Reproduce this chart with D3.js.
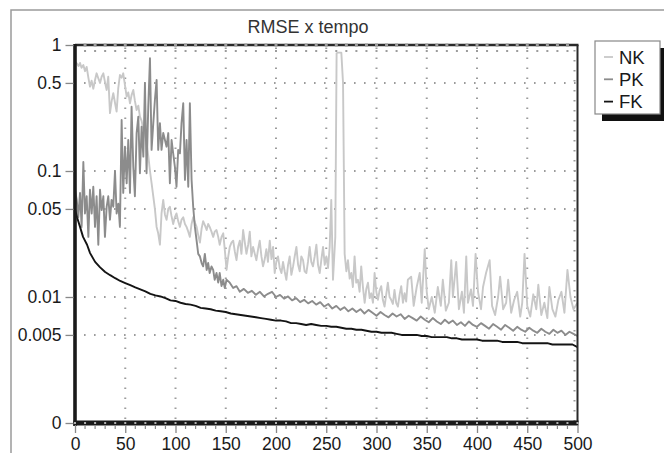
<!DOCTYPE html>
<html>
<head>
<meta charset="utf-8">
<script src="https://cdn.jsdelivr.net/npm/d3@7"></script>
<style>
  body { margin: 0; background: #fff; }
  svg { display: block; font-family: "Liberation Sans", Arial, sans-serif; }
</style>
</head>
<body>
<svg id="chart" width="664" height="453"></svg>
<script>
// ---- data ----
const seriesNames = ["NK", "PK", "FK"];
const xTickValues = [0, 50, 100, 150, 200, 250, 300, 350, 400, 450, 500];
const yTickValues = [1, 0.5, 0.1, 0.05, 0.01, 0.005, 0.001];
const yTickLabels = ["1", "0.5", "0.1", "0.05", "0.01", "0.005", "0"];

const nk = [
  [0,0.74],[1.7,0.716],[3.5,0.68],[5,0.72],[6.5,0.66],[8.3,0.694],[10,0.62],[11.6,0.67],[13.3,0.55],
  [14.9,0.467],[16.5,0.52],[18.2,0.45],[20,0.53],[21.5,0.596],[23,0.55],[24.9,0.5],[26.5,0.56],
  [28.2,0.596],[30,0.5],[31.5,0.44],[33.1,0.56],[34.8,0.288],[36.5,0.36],[38.1,0.415],[40,0.34],
  [41.4,0.296],[43,0.45],[44.7,0.578],[46.4,0.55],[48,0.596],[49.7,0.48],[51.4,0.39],[53,0.42],
  [54.7,0.345],[56.3,0.4],[58,0.44],[59.6,0.36],[61.3,0.305],[63,0.33],[64.6,0.27],[66.3,0.25],
  [68,0.212],[69.6,0.2],[71.2,0.166],[73,0.13],[74.6,0.1],[76.2,0.08],[77.9,0.063],[79.5,0.05],
  [81.2,0.036],[82.8,0.032],[84.5,0.026],[86.1,0.046],[87.8,0.059],[89.5,0.045],[91.1,0.041],
  [92.8,0.05],[94.4,0.052],[96,0.044],[97.7,0.038],[99.4,0.043],[101,0.046],[102.7,0.04],
  [104.4,0.036],[106,0.041],[107.7,0.043],[109.4,0.038],[111,0.036],[112.7,0.033],[114.3,0.03],
  [116,0.038],[117.6,0.043],[119.3,0.039],[121,0.036],[122.6,0.031],[124.3,0.027],[126,0.035],
  [127.5,0.04],[129.3,0.037],[131,0.034],[132.5,0.038],[134,0.036],[135.8,0.033],[137.5,0.03],
  [139,0.033],[140.8,0.034],[142.5,0.03],[144,0.026],[145.8,0.03],[147.5,0.032],[149,0.024],
  [150.8,0.0164],[152.5,0.021],[154,0.025],[155.7,0.027],[157.4,0.028],[159,0.023],[160.7,0.0196],
  [162.3,0.025],[164,0.028],[165.6,0.022],[167.3,0.034],[169,0.027],[170.6,0.022],[172.3,0.026],
  [173.9,0.033],[175.5,0.021],[177.2,0.025],[178.9,0.022],[180.5,0.0196],[182.2,0.024],
  [183.8,0.028],[185.5,0.021],[187.1,0.0175],[188.8,0.02],[190.4,0.024],[192,0.019],[193.8,0.028],
  [195.5,0.02],[197.1,0.025],[198.7,0.0155],[200.3,0.019],[202,0.021],[203.7,0.017],
  [205.4,0.0155],[207,0.019],[208.6,0.016],[210.3,0.0137],[212,0.018],[213.6,0.021],[215.3,0.015],
  [217,0.0175],[218.6,0.021],[220.3,0.025],[222,0.018],[223.6,0.016],[225.2,0.021],[226.9,0.0196],
  [228.5,0.016],[230.2,0.0155],[231.8,0.019],[233.5,0.025],[235.1,0.019],[236.8,0.0175],[238.5,0.021],
  [240.2,0.026],[241.8,0.018],[243.5,0.0155],[245.2,0.02],[246.8,0.025],[248.5,0.018],[250.1,0.021],
  [251.8,0.017],[253.4,0.025],[255,0.059],[256.7,0.0137],[259,0.03],[260.3,0.86],[261.7,0.87],[265,0.87],
  [266.7,0.5],[268.3,0.022],[270,0.016],[271.6,0.0196],[273.3,0.014],[274.9,0.0155],[276.5,0.012],
  [278.2,0.021],[279.8,0.013],[281.5,0.0137],[283.2,0.011],[284.8,0.0175],[286.5,0.012],
  [288.2,0.009],[289.8,0.0115],[291.5,0.013],[293.2,0.0098],[294.8,0.0107],[296.5,0.009],
  [298.1,0.0155],[299.8,0.011],[301.4,0.0095],[303,0.0112],[304.7,0.0122],[306.3,0.0095],[308,0.0084],
  [309.7,0.0105],[311.3,0.013],[313,0.01],[314.6,0.0095],[316.3,0.0088],[317.9,0.0114],[319.6,0.009],
  [321.3,0.0084],[323,0.0105],[324.6,0.0122],[326.3,0.009],[327.9,0.0107],[329.5,0.0092],[331.2,0.0137],
  [334.5,0.0145],[337,0.0085],[340,0.012],[343,0.0155],[345,0.009],[348,0.024],[350,0.011],[352,0.008],
  [355,0.01],[358,0.0075],[361,0.012],[364,0.0085],[366,0.0137],[369,0.0078],[372,0.009],[374.4,0.0196],
  [376,0.01],[379.3,0.019],[382,0.008],[385,0.011],[387,0.0075],[389.3,0.021],[391,0.009],[394,0.0115],
  [396,0.0085],[398.6,0.022],[401,0.011],[404,0.008],[406,0.012],[409,0.0155],[412.6,0.0196],[415,0.0085],
  [418,0.0072],[421,0.01],[423,0.0145],[426,0.008],[429,0.009],[431,0.0137],[434,0.0075],[437,0.0095],
  [440,0.011],[443,0.007],[445,0.009],[447.3,0.022],[450,0.0085],[453,0.007],[456,0.0105],[459,0.008],
  [461,0.0125],[464,0.0072],[467,0.009],[470,0.0068],[472,0.012],[475,0.008],[478,0.007],[481,0.0095],
  [484,0.011],[487,0.0075],[490,0.0164],[493,0.01],[496,0.008],[500,0.009]
];

const pk = [
  [0,0.071],[1.7,0.059],[3.3,0.043],[5,0.067],[6.6,0.036],[8.3,0.118],[9.9,0.046],[11.6,0.063],
  [13.3,0.03],[14.9,0.071],[16.6,0.046],[18.2,0.075],[19.9,0.036],[21.5,0.063],[23.2,0.026],
  [24.9,0.071],[26.5,0.049],[28.2,0.063],[29.8,0.03],[31.5,0.052],[33.1,0.063],[34.8,0.041],
  [36.4,0.059],[38.1,0.052],[39.8,0.1],[41.4,0.046],[43.1,0.055],[44.7,0.036],[46.4,0.254],
  [48,0.067],[49.7,0.156],[51.4,0.08],[53,0.176],[54.7,0.067],[56.3,0.324],[58,0.108],[59.6,0.063],
  [61.3,0.2],[63,0.27],[64.6,0.096],[66.3,0.225],[68,0.13],[69.6,0.5],[71.2,0.096],[72.9,0.324],
  [74.6,0.784],[76.2,0.147],[77.9,0.24],[79.5,0.366],[81.2,0.527],[82.8,0.147],[84.5,0.24],
  [86.1,0.147],[87.8,0.2],[89.5,0.176],[91.1,0.156],[92.8,0.2],[94.4,0.08],[96.1,0.176],[97.7,0.138],
  [99.4,0.108],[101,0.075],[102.7,0.147],[104.4,0.138],[106,0.24],[107.7,0.345],[109.4,0.085],
  [111,0.176],[112.7,0.075],[114.3,0.345],[116,0.085],[117.6,0.052],[119.3,0.036],[121,0.028],
  [122.6,0.022],[124.3,0.021],[126,0.0186],[127.5,0.0175],[129.2,0.022],[131,0.0164],[132.5,0.0186],
  [134,0.0155],[135.8,0.0175],[137.5,0.0164],[139,0.0137],[140.8,0.0155],[142.5,0.013],[144,0.0155],
  [145.8,0.0122],[147.5,0.0137],[149,0.0118],[150.8,0.0137],[154,0.013],[157.4,0.0118],[160.7,0.0122],
  [164,0.011],[168,0.0116],[172,0.0108],[176,0.0112],[180,0.0104],[184,0.011],[188,0.0101],[192,0.0106],
  [196,0.011],[200,0.01],[204,0.0104],[208,0.0097],[212,0.0101],[216,0.0094],[220,0.0098],[224,0.0091],
  [228,0.0095],[232,0.0089],[236,0.0093],[240,0.0087],[244,0.0091],[248,0.0084],[252,0.0088],[256,0.0081],
  [260,0.0085],[264,0.0079],[268,0.0083],[272,0.0077],[276,0.0081],[280,0.0076],[284,0.008],[288,0.0074],
  [292,0.0079],[296,0.0075],[300,0.0071],[304,0.0076],[308,0.0072],[312,0.0069],[316,0.0074],[320,0.007],
  [324,0.0073],[328,0.0067],[332,0.0071],[336,0.0068],[340,0.0065],[344,0.007],[348,0.0066],[352,0.0063],
  [356,0.0068],[360,0.0064],[364,0.0061],[368,0.0066],[372,0.0062],[376,0.0065],[380,0.006],[384,0.0063],
  [388,0.0059],[392,0.0064],[396,0.006],[400,0.0058],[404,0.0062],[408,0.0059],[412,0.0056],[416,0.0061],
  [420,0.0058],[424,0.0055],[428,0.006],[432,0.0057],[436,0.0054],[440,0.0058],[444,0.0055],[448,0.0053],
  [452,0.0057],[456,0.0054],[460,0.0052],[464,0.0056],[468,0.0053],[472,0.0051],[476,0.0055],[480,0.0052],
  [484,0.0054],[488,0.005],[492,0.0053],[496,0.0051],[500,0.0049]
];

const fk = [
  [0,0.05],[2,0.043],[5,0.036],[8,0.03],[12,0.026],[15,0.0223],[20,0.019],[25,0.0172],[30,0.0158],
  [35,0.0149],[40,0.0141],[45,0.0134],[50,0.0129],[55,0.0124],[60,0.0119],[65,0.0115],[70,0.0111],
  [75,0.0106],[80,0.0103],[85,0.0101],[90,0.0098],[95,0.0094],[100,0.0093],[105,0.009],[110,0.0088],
  [115,0.0087],[120,0.0085],[125,0.0082],[130,0.0081],[135,0.008],[140,0.0078],[145,0.0077],[150,0.0076],
  [155,0.0074],[160,0.0073],[165,0.0072],[170,0.0071],[175,0.007],[180,0.0069],[185,0.0068],[190,0.0067],
  [195,0.0066],[200,0.0065],[205,0.0065],[210,0.0064],[215,0.0062],[220,0.0062],[225,0.0061],[230,0.006],
  [235,0.0061],[240,0.006],[245,0.0059],[250,0.0059],[255,0.0058],[260,0.0058],[265,0.0057],[270,0.0056],
  [275,0.0056],[280,0.0055],[285,0.0055],[290,0.0054],[295,0.0053],[300,0.0053],[305,0.0052],[310,0.0052],
  [315,0.0052],[320,0.0051],[325,0.005],[330,0.005],[335,0.005],[340,0.005],[345,0.0049],[350,0.0049],
  [355,0.0048],[360,0.0048],[365,0.0048],[370,0.0048],[375,0.0047],[380,0.0047],[385,0.0046],[390,0.0046],
  [395,0.0046],[400,0.0046],[405,0.0045],[410,0.0045],[415,0.0045],[420,0.0045],[425,0.0044],[430,0.0044],
  [435,0.0044],[440,0.0044],[445,0.0043],[450,0.0043],[455,0.0043],[460,0.0043],[465,0.0043],[470,0.0043],
  [475,0.0042],[480,0.0042],[485,0.0042],[490,0.0042],[495,0.0042],[500,0.004]
];

const seriesData = [nk, pk, fk];
const seriesColor = ["#c8c8c8", "#8c8c8c", "#141414"];

// ---- layout ----
const svg = d3.select("#chart");
const plot = { left: 75, right: 577.5, top: 45, bottom: 423 };

const x = d3.scaleLinear().domain([0, 500]).range([plot.left, plot.right]);
const y = d3.scaleLog().domain([0.001, 1]).range([plot.bottom, plot.top]);

// outer frame
svg.append("rect")
  .attr("x", 11).attr("y", 10)
  .attr("width", 720).attr("height", 520)
  .attr("fill", "none")
  .attr("stroke", "#9a9a9a")
  .attr("stroke-width", 1.5);

// title
svg.append("text")
  .attr("x", 308).attr("y", 33)
  .attr("text-anchor", "middle")
  .style("font-size", "18px")
  .attr("fill", "#333")
  .text("RMSE x tempo");

// ---- dotted grid ----
const grid = svg.append("g")
  .attr("stroke", "#9c9c9c")
  .attr("stroke-width", 2)
  .attr("stroke-dasharray", "1.6,8.4");

grid.selectAll("line.v")
  .data(xTickValues.slice(1, -1))
  .enter().append("line")
  .attr("x1", d => x(d)).attr("x2", d => x(d))
  .attr("y1", plot.bottom - 4).attr("y2", plot.top);

grid.selectAll("line.h")
  .data(yTickValues.slice(1, -1))
  .enter().append("line")
  .attr("x1", plot.left + 9).attr("x2", plot.right)
  .attr("y1", d => y(d)).attr("y2", d => y(d));

// inner minor ticks along top and right edges (look like dot rows)
const minorX = d3.range(0, 501, 10);
svg.append("g").selectAll("rect")
  .data(minorX.slice(1, -1))
  .enter().append("rect")
  .attr("x", d => x(d) - 1).attr("y", plot.top + 5)
  .attr("width", 2).attr("height", 2)
  .attr("fill", "#9c9c9c");

svg.append("line")
  .attr("x1", plot.right - 3).attr("x2", plot.right - 3)
  .attr("y1", plot.top + 5).attr("y2", plot.bottom)
  .attr("stroke", "#9c9c9c")
  .attr("stroke-width", 2)
  .attr("stroke-dasharray", "1.6,8.4");

// ---- series ----
const line = d3.line()
  .x(d => x(d[0]))
  .y(d => y(d[1]));

svg.append("g").selectAll("path")
  .data(seriesData)
  .enter().append("path")
  .attr("d", line)
  .attr("fill", "none")
  .attr("stroke", (d, i) => seriesColor[i])
  .attr("stroke-width", 1.9)
  .attr("stroke-linejoin", "round");

// ---- frame lines ----
// top
svg.append("line")
  .attr("x1", plot.left).attr("x2", plot.right + 1)
  .attr("y1", plot.top).attr("y2", plot.top)
  .attr("stroke", "#2a2a2a").attr("stroke-width", 2.5);
svg.append("g").selectAll("rect")
  .data(minorX.slice(1, -1))
  .enter().append("rect")
  .attr("x", d => x(d) - 1.5).attr("y", plot.top - 1.5)
  .attr("width", 3).attr("height", 3)
  .attr("fill", "#9c9c9c");

// right
svg.append("line")
  .attr("x1", plot.right).attr("x2", plot.right)
  .attr("y1", plot.top).attr("y2", plot.bottom)
  .attr("stroke", "#2a2a2a").attr("stroke-width", 2);

// left (thick)
svg.append("line")
  .attr("x1", plot.left).attr("x2", plot.left)
  .attr("y1", plot.top - 1).attr("y2", plot.bottom + 3)
  .attr("stroke", "#1a1a1a").attr("stroke-width", 3.6);

// bottom (thick)
svg.append("line")
  .attr("x1", plot.left - 1.5).attr("x2", plot.right + 1)
  .attr("y1", plot.bottom).attr("y2", plot.bottom)
  .attr("stroke", "#1a1a1a").attr("stroke-width", 5);

// ---- x axis ticks ----
svg.append("g").selectAll("rect.minor")
  .data(minorX)
  .enter().append("rect")
  .attr("x", d => x(d) - 1).attr("y", plot.bottom - 1)
  .attr("width", 2).attr("height", 2)
  .attr("fill", "#b0b0b0");
svg.append("g").selectAll("line")
  .data(minorX.filter(d => d % 50 !== 0))
  .enter().append("line")
  .attr("x1", d => x(d)).attr("x2", d => x(d))
  .attr("y1", plot.bottom + 3).attr("y2", plot.bottom + 6)
  .attr("stroke", "#888").attr("stroke-width", 1.2);

const xAxis = svg.append("g")
  .attr("transform", `translate(0,${plot.bottom + 2})`)
  .call(d3.axisBottom(x).tickValues(xTickValues).tickSize(8).tickFormat(d3.format("d")));
xAxis.select(".domain").remove();
xAxis.selectAll("line").attr("stroke", "#888").attr("stroke-width", 1.3);
xAxis.selectAll("text")
  .attr("y", 24.5).attr("dy", null)
  .attr("fill", "#1a1a1a")
  .style("font-size", "17.5px")
  .style("font-family", "'Liberation Sans', Arial, sans-serif");

// ---- y axis ticks ----
const yAxis = svg.append("g")
  .attr("transform", `translate(${plot.left - 1.5},0)`)
  .call(d3.axisLeft(y).tickValues(yTickValues).tickSize(8).tickPadding(4)
    .tickFormat((d, i) => yTickLabels[i]));
yAxis.select(".domain").remove();
yAxis.selectAll("line").attr("stroke", "#888").attr("stroke-width", 1.3);
yAxis.selectAll("text")
  .attr("fill", "#1a1a1a")
  .style("font-size", "17.5px")
  .style("font-family", "'Liberation Sans', Arial, sans-serif");

// ---- legend ----
const legend = svg.append("g").attr("transform", "translate(595,41)");
legend.append("rect")
  .attr("x", 7).attr("y", 7)
  .attr("width", 64).attr("height", 73)
  .attr("fill", "#111");
legend.append("rect")
  .attr("x", 0).attr("y", 0)
  .attr("width", 65).attr("height", 73)
  .attr("fill", "#fff")
  .attr("stroke", "#888").attr("stroke-width", 1.2);

seriesNames.forEach((name, i) => {
  const g = legend.append("g").attr("transform", `translate(0,${16 + i * 22.3})`);
  g.append("line")
    .attr("x1", 9).attr("x2", 18)
    .attr("y1", 0).attr("y2", 0)
    .attr("stroke", seriesColor[i])
    .attr("stroke-width", 1.8);
  g.append("text")
    .attr("x", 24).attr("y", 6.5)
    .attr("fill", "#1a1a1a")
    .style("font-size", "18.5px")
    .text(name);
});
</script>
</body>
</html>
